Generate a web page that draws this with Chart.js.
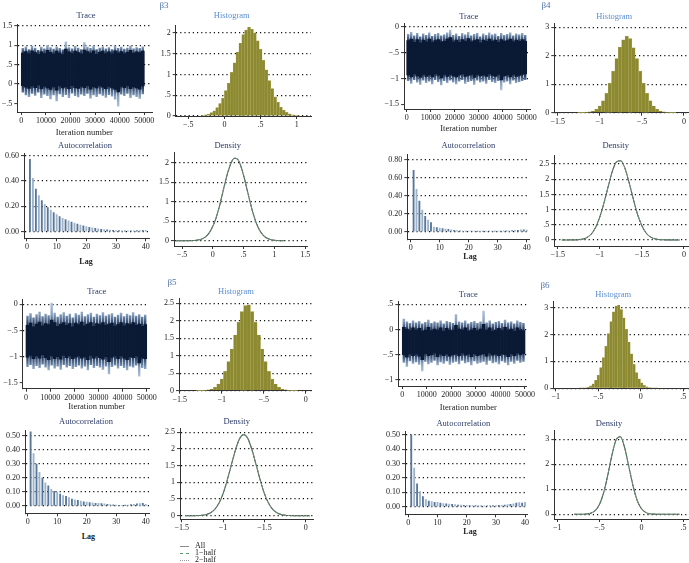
<!DOCTYPE html>
<html>
<head>
<meta charset="utf-8">
<script src="https://cdn.jsdelivr.net/npm/chart.js"></script>
<style>
  body { margin: 0; width: 689px; height: 563px; overflow: hidden; background: #fff; position: relative; }
  canvas { position: absolute; }
  .t { position: absolute; white-space: nowrap; transform: translate(-50%, -50%); line-height: 1;
       font-family: "Liberation Serif", "DejaVu Serif", serif; font-size: 8.5px; color: #2b3a67; }
  .hist { color: #5b8ed3; }
  .beta { color: #4f73a8; font-size: 9px; }
  .axt { color: #222; }
  .lag { color: #222; font-weight: bold; font-size: 8px; }
  .leg { position: absolute; font-family: "Liberation Serif", serif; font-size: 8px; color: #222; line-height: 1; }
  .leg i { display: inline-block; width: 9px; margin-right: 6px; vertical-align: middle; }
</style>
</head>
<body>
<script>
// categories / ticks
function grid(start, step, n) { return Array.from({ length: n }, (_, i) => +(start + step * i).toFixed(4)); }
const traceIter = grid(625, 1250, 40);
const lags = grid(1, 1, 40);
const traceTicks = [0, 10000, 20000, 30000, 40000, 50000];
const traceTickLabels = ["0", "10000", "20000", "30000", "40000", "50000"];
const lagTicks = [0, 10, 20, 30, 40];
const lagTickLabels = ["0", "10", "20", "30", "40"];

// beta3
const b3OuterHi = [0.93,0.97,0.90,0.99,0.94,0.88,0.96,0.92,1.00,0.95,0.91,0.97,0.93,0.89,1.10,0.95,0.92,0.98,0.94,0.90,1.08,0.96,0.93,0.99,0.90,0.94,0.97,0.92,0.95,0.90,0.98,0.93,0.96,0.91,0.94,0.99,0.92,0.95,0.93,0.97];
const b3OuterLo = [-0.22,-0.29,-0.33,-0.25,-0.30,-0.22,-0.36,-0.27,-0.31,-0.39,-0.29,-0.44,-0.26,-0.33,-0.28,-0.36,-0.24,-0.31,-0.34,-0.27,-0.31,-0.25,-0.37,-0.29,-0.33,-0.26,-0.30,-0.35,-0.28,-0.32,-0.40,-0.58,-0.27,-0.31,-0.25,-0.36,-0.29,-0.33,-0.38,-0.26];
const b3CoreHi = [0.80,0.84,0.78,0.86,0.81,0.77,0.83,0.79,0.87,0.82,0.78,0.85,0.80,0.76,0.90,0.83,0.79,0.85,0.81,0.78,0.88,0.84,0.80,0.86,0.77,0.82,0.85,0.79,0.83,0.78,0.86,0.80,0.84,0.79,0.82,0.87,0.80,0.83,0.81,0.85];
const b3CoreLo = [-0.04,-0.08,-0.11,-0.05,-0.09,-0.03,-0.12,-0.06,-0.10,-0.14,-0.07,-0.16,-0.05,-0.10,-0.07,-0.12,-0.04,-0.09,-0.11,-0.06,-0.09,-0.05,-0.13,-0.07,-0.10,-0.05,-0.08,-0.12,-0.06,-0.10,-0.14,-0.20,-0.06,-0.09,-0.05,-0.12,-0.07,-0.10,-0.13,-0.05];
const b3HistX = grid(-0.30, 0.04, 34);
const b3Hist = [0.015,0.027,0.045,0.080,0.124,0.200,0.30,0.43,0.61,0.79,1.05,1.28,1.54,1.75,1.96,2.07,2.14,2.09,2.00,1.81,1.61,1.34,1.11,0.85,0.66,0.46,0.33,0.21,0.14,0.088,0.050,0.031,0.016,0.009];
const b3Acf = [0.57,0.42,0.335,0.285,0.245,0.215,0.19,0.17,0.15,0.135,0.12,0.105,0.095,0.085,0.075,0.068,0.06,0.052,0.046,0.04,0.035,0.03,0.026,0.022,0.019,0.016,0.014,0.012,0.01,0.009,0.008,0.007,0.007,0.006,0.006,0.007,0.008,0.009,0.01,0.01];
const b3DensX = grid(-0.60, 0.05, 36);
const b3Dens = [0,0,0,0,0.001,0.003,0.006,0.015,0.032,0.066,0.125,0.22,0.37,0.57,0.84,1.16,1.49,1.79,2.01,2.12,2.10,1.94,1.68,1.36,1.03,0.73,0.48,0.30,0.177,0.096,0.050,0.024,0.010,0.0045,0.002,0.001];

// beta4
const b4OuterHi = [-0.14,-0.10,-0.17,-0.12,-0.19,-0.13,-0.16,-0.11,-0.18,-0.14,-0.12,-0.17,-0.15,-0.11,-0.06,-0.16,-0.13,-0.18,-0.12,-0.15,-0.10,-0.17,-0.14,-0.12,-0.19,-0.13,-0.16,-0.11,-0.15,-0.13,-0.18,-0.12,-0.16,-0.14,-0.11,-0.17,-0.13,-0.15,-0.12,-0.16];
const b4OuterLo = [-1.05,-1.10,-1.03,-1.08,-1.12,-1.04,-1.09,-1.06,-1.11,-1.03,-1.07,-1.13,-1.05,-1.09,-1.04,-1.08,-1.11,-1.06,-1.03,-1.10,-1.07,-1.05,-1.12,-1.04,-1.08,-1.06,-1.10,-1.03,-1.07,-1.09,-1.05,-1.23,-1.08,-1.06,-1.11,-1.04,-1.09,-1.07,-1.05,-1.03];
const b4CoreHi = [-0.27,-0.24,-0.30,-0.25,-0.31,-0.26,-0.29,-0.24,-0.30,-0.27,-0.25,-0.29,-0.28,-0.24,-0.21,-0.29,-0.26,-0.30,-0.25,-0.28,-0.23,-0.29,-0.27,-0.25,-0.31,-0.26,-0.28,-0.24,-0.28,-0.26,-0.30,-0.25,-0.28,-0.27,-0.24,-0.29,-0.26,-0.28,-0.25,-0.28];
const b4CoreLo = [-0.93,-0.97,-0.91,-0.95,-0.98,-0.92,-0.96,-0.93,-0.97,-0.91,-0.94,-0.99,-0.92,-0.96,-0.92,-0.95,-0.97,-0.93,-0.91,-0.96,-0.94,-0.92,-0.98,-0.92,-0.95,-0.93,-0.96,-0.91,-0.94,-0.96,-0.92,-1.03,-0.95,-0.93,-0.97,-0.92,-0.96,-0.94,-0.92,-0.91];
const b4HistX = grid(-1.24, 0.04, 29);
const b4Hist = [0.002,0.004,0.011,0.027,0.060,0.123,0.236,0.42,0.68,1.04,1.46,1.90,2.30,2.56,2.69,2.60,2.28,1.90,1.46,1.04,0.68,0.42,0.236,0.123,0.060,0.027,0.011,0.004,0.002];
const b4Acf = [0.68,0.47,0.34,0.24,0.17,0.13,0.10,0.05,0.045,0.04,0.035,0.03,0.025,0.02,0.015,0.012,0.01,0.008,0.007,0.006,0.005,0.005,0.004,0.004,0.004,0.005,0.005,0.006,0.006,0.007,0.008,0.009,0.01,0.011,0.012,0.014,0.016,0.02,0.022,0.018];
const b4DensX = grid(-1.45, 0.05, 29);
const b4Dens = [0,0,0.001,0.003,0.011,0.032,0.085,0.196,0.41,0.75,1.22,1.76,2.27,2.58,2.61,2.35,1.87,1.33,0.83,0.47,0.23,0.102,0.039,0.014,0.004,0.001,0,0,0];

// beta5
const b5OuterHi = [-0.22,-0.17,-0.25,-0.19,-0.14,-0.23,-0.18,-0.21,0.03,-0.16,-0.24,-0.19,-0.15,-0.22,-0.18,-0.25,-0.17,-0.20,-0.14,-0.23,-0.19,-0.16,-0.24,-0.18,-0.21,-0.15,-0.22,-0.19,-0.17,-0.24,-0.20,-0.16,-0.23,-0.18,-0.21,-0.15,-0.22,-0.19,-0.24,-0.20];
const b5OuterLo = [-1.20,-1.16,-1.24,-1.18,-1.22,-1.15,-1.21,-1.26,-1.17,-1.23,-1.19,-1.25,-1.16,-1.21,-1.18,-1.24,-1.20,-1.17,-1.23,-1.19,-1.26,-1.16,-1.22,-1.18,-1.21,-1.25,-1.19,-1.34,-1.20,-1.17,-1.23,-1.18,-1.22,-1.26,-1.19,-1.21,-1.17,-1.38,-1.22,-1.24];
const b5CoreHi = [-0.40,-0.36,-0.43,-0.38,-0.34,-0.41,-0.37,-0.39,-0.30,-0.35,-0.42,-0.38,-0.35,-0.40,-0.37,-0.43,-0.36,-0.39,-0.34,-0.41,-0.38,-0.35,-0.42,-0.37,-0.39,-0.35,-0.40,-0.38,-0.36,-0.42,-0.39,-0.35,-0.41,-0.37,-0.39,-0.35,-0.40,-0.38,-0.42,-0.39];
const b5CoreLo = [-1.01,-0.98,-1.04,-0.99,-1.03,-0.97,-1.02,-1.06,-0.99,-1.04,-1.00,-1.05,-0.98,-1.02,-0.99,-1.04,-1.01,-0.99,-1.03,-1.00,-1.06,-0.98,-1.03,-0.99,-1.02,-1.05,-1.00,-1.10,-1.01,-0.99,-1.04,-0.99,-1.03,-1.06,-1.00,-1.02,-0.99,-1.12,-1.03,-1.04];
const b5HistX = grid(-1.28, 0.04, 30);
const b5Hist = [0.001,0.004,0.010,0.022,0.049,0.10,0.19,0.33,0.55,0.83,1.19,1.59,1.96,2.26,2.43,2.45,2.26,1.96,1.59,1.19,0.83,0.55,0.33,0.19,0.10,0.049,0.022,0.010,0.004,0.001];
const b5Acf = [0.53,0.375,0.30,0.24,0.20,0.165,0.145,0.12,0.105,0.10,0.085,0.075,0.07,0.06,0.05,0.045,0.04,0.035,0.03,0.028,0.025,0.022,0.02,0.02,0.018,0.015,0.012,0.01,0.008,0.006,0.005,0.005,0.006,0.007,0.01,0.012,0.015,0.018,0.02,0.012];
const b5DensX = grid(-1.45, 0.05, 31);
const b5Dens = [0,0,0.001,0.004,0.013,0.036,0.087,0.19,0.37,0.66,1.06,1.52,1.97,2.31,2.43,2.31,1.97,1.52,1.06,0.66,0.37,0.19,0.087,0.036,0.013,0.004,0.001,0,0,0,0];

// beta6
const b6OuterHi = [0.21,0.16,0.13,0.18,0.14,0.17,0.12,0.15,0.19,0.13,0.16,0.14,0.18,0.12,0.17,0.15,0.13,0.30,0.16,0.14,0.18,0.12,0.15,0.17,0.13,0.16,0.37,0.14,0.18,0.12,0.15,0.17,0.13,0.19,0.14,0.16,0.12,0.18,0.15,0.13];
const b6OuterLo = [-0.66,-0.74,-0.63,-0.68,-0.65,-0.70,-0.83,-0.64,-0.69,-0.66,-0.62,-0.71,-0.65,-0.68,-0.63,-0.70,-0.66,-0.64,-0.69,-0.62,-0.67,-0.65,-0.71,-0.63,-0.68,-0.66,-0.64,-0.70,-0.62,-0.67,-0.65,-0.69,-0.63,-0.66,-0.71,-0.64,-0.68,-0.62,-0.66,-0.64];
const b6CoreHi = [0.04,0.01,-0.02,0.03,-0.01,0.02,-0.03,0.00,0.04,-0.02,0.01,-0.01,0.03,-0.03,0.02,0.00,-0.02,0.08,0.01,-0.01,0.03,-0.03,0.00,0.02,-0.02,0.01,0.10,-0.01,0.03,-0.03,0.00,0.02,-0.02,0.04,-0.01,0.01,-0.03,0.03,0.00,-0.02];
const b6CoreLo = [-0.50,-0.55,-0.48,-0.52,-0.49,-0.53,-0.60,-0.48,-0.52,-0.50,-0.47,-0.54,-0.49,-0.52,-0.48,-0.53,-0.50,-0.48,-0.52,-0.47,-0.51,-0.49,-0.54,-0.48,-0.52,-0.50,-0.48,-0.53,-0.47,-0.51,-0.49,-0.52,-0.48,-0.50,-0.54,-0.48,-0.52,-0.47,-0.50,-0.48];
const b6HistX = grid(-0.71, 0.03, 31);
const b6Hist = [0.004,0.009,0.021,0.044,0.088,0.167,0.30,0.49,0.77,1.14,1.57,2.03,2.48,2.84,3.06,3.09,2.93,2.62,2.19,1.72,1.28,0.89,0.58,0.35,0.20,0.11,0.057,0.027,0.012,0.005,0.002];
const b6Acf = [0.50,0.27,0.16,0.105,0.07,0.05,0.04,0.035,0.03,0.03,0.025,0.022,0.02,0.018,0.016,0.014,0.012,0.011,0.01,0.009,0.008,0.008,0.007,0.007,0.006,0.006,0.006,0.007,0.007,0.008,0.009,0.01,0.012,0.014,0.016,0.02,0.025,0.028,0.025,0.03];
const b6DensX = grid(-0.80, 0.05, 26);
const b6Dens = [0,0,0.002,0.011,0.045,0.144,0.39,0.86,1.57,2.38,2.99,3.10,2.66,1.90,1.13,0.54,0.22,0.074,0.020,0.005,0.001,0,0,0,0,0];

const FONT = '"Liberation Serif", "DejaVu Serif", serif';

function makeChart(g, type, datasets, xt, xl, yt, yl) {
  const yw = 26, xh = 14;
  const left = Math.round(g.L - yw - 2), top = Math.round(g.T - 8);
  const width = Math.round(g.R + 18 - left), height = Math.round(g.B + xh + 2 - top);
  const cv = document.createElement("canvas");
  cv.width = width; cv.height = height;
  cv.style.left = left + "px"; cv.style.top = top + "px";
  document.body.appendChild(cv);
  const tickFont = { family: FONT, size: 8 };
  const noGrid = g.noGrid || [];
  return new Chart(cv, {
    type: type,
    data: { datasets: datasets },
    options: {
      responsive: false, animation: false, events: [],
      layout: { padding: { left: g.L - yw - left, top: g.T - top, right: left + width - g.R, bottom: top + height - g.B - xh } },
      plugins: { legend: { display: false }, tooltip: { enabled: false } },
      scales: {
        x: {
          type: "linear", min: g.x[0], max: g.x[1], offset: false, bounds: "data",
          afterBuildTicks: s => { s.ticks = xt.map(v => ({ value: v })); },
          afterFit: s => { s.height = xh; },
          ticks: { callback: (v, i) => xl[i], font: tickFont, color: "#222", padding: 1, maxRotation: 0, autoSkip: false },
          grid: { offset: false, drawOnChartArea: false, tickLength: 3, color: "#333" },
          border: { color: "#333", width: 1 }
        },
        y: {
          type: "linear", min: g.y[0], max: g.y[1], bounds: "data",
          afterBuildTicks: s => { s.ticks = yt.map(v => ({ value: v })); },
          afterFit: s => { s.width = yw; },
          ticks: { callback: (v, i) => yl[i], font: tickFont, color: "#222", padding: 2, autoSkip: false },
          grid: { color: c => noGrid.includes(c.tick && c.tick.value) ? "rgba(0,0,0,0)" : "#111",
                  lineWidth: 1.2, tickLength: 3, tickColor: "#333", tickWidth: 1 },
          border: { color: "#333", width: 1, dash: [1.2, 3] }
        }
      }
    }
  });
}

function pts(xs, ys) { return xs.map((x, i) => ({ x: x, y: ys[i] })); }
function band(lo, hi) { return traceIter.map((x, i) => ({ x: x, y: [lo[i], hi[i]] })); }
const mean = a => a.reduce((s, v) => s + v, 0) / a.length;

// fading colour for the outer spikes: dark near the band, light at the extremes
function fade(oLo, oHi, cLo, cHi) {
  return c => {
    const ch = c.chart;
    if (!ch.chartArea) return "#6786ac";
    const y = ch.scales.y;
    const top = y.getPixelForValue(Math.max(...oHi)), bot = y.getPixelForValue(Math.min(...oLo));
    const span = bot - top;
    const at = v => Math.min(1, Math.max(0, (y.getPixelForValue(v) - top) / span));
    const gr = ch.ctx.createLinearGradient(0, top, 0, bot);
    gr.addColorStop(0, "#b2c3d7");
    gr.addColorStop(at(mean(oHi)), "#86a0c0");
    gr.addColorStop(at(mean(cHi)), "#233a5e");
    gr.addColorStop(at(mean(cLo)), "#233a5e");
    gr.addColorStop(at(mean(oLo)), "#86a0c0");
    gr.addColorStop(1, "#b2c3d7");
    return gr;
  };
}

function trace(g, oLo, oHi, cLo, cHi, yt, yl) {
  makeChart(g, "bar", [
    { data: band(cLo, cHi), backgroundColor: "#0b1a34", barPercentage: 1, categoryPercentage: 1, grouped: false, order: 0 },
    { data: band(oLo, oHi), backgroundColor: fade(oLo, oHi, cLo, cHi), barPercentage: 0.8, categoryPercentage: 1, grouped: false, order: 1 }
  ], traceTicks, traceTickLabels, yt, yl);
}
function hist(g, xs, ys, xt, xl, yt, yl) {
  makeChart(g, "bar", [
    { data: pts(xs, ys), backgroundColor: "#8c8930", borderColor: "#b4b06a", borderWidth: 0.4,
      barPercentage: 1, categoryPercentage: 1 }
  ], xt, xl, yt, yl);
}
function acf(g, ys, yt, yl) {
  makeChart(g, "bar", [
    { data: pts(lags, ys), backgroundColor: lags.map((l, i) => i % 2 ? "#9db3ca" : "#58769a"), barThickness: 1.2 }
  ], lagTicks, lagTickLabels, yt, yl);
}
function dens(g, xs, ys, xt, xl, yt, yl) {
  const base = { data: pts(xs, ys), pointRadius: 0, cubicInterpolationMode: "monotone", fill: false };
  makeChart(g, "line", [
    Object.assign({}, base, { label: "2-half", borderColor: "#999", borderWidth: 1, borderDash: [1, 2] }),
    Object.assign({}, base, { label: "1-half", borderColor: "#3f7f52", borderWidth: 1, borderDash: [3, 2] }),
    Object.assign({}, base, { label: "All", borderColor: "#56605a", borderWidth: 1.1 })
  ], xt, xl, yt, yl);
}

function txt(s, x, y, cls) {
  const d = document.createElement("div");
  d.className = "t " + (cls || "");
  d.textContent = s;
  d.style.left = x + "px"; d.style.top = y + "px";
  document.body.appendChild(d);
}

// ---- beta3 ----
trace({ L: 17.3, R: 152, T: 24, B: 112, x: [-1626, 53130], y: [-0.72, 1.55], noGrid: [-0.5] },
  b3OuterLo, b3OuterHi, b3CoreLo, b3CoreHi, [1.5, 1, 0.5, 0, -0.5], ["1.5", "1", ".5", "0", "−.5"]);
hist({ L: 175.7, R: 311, T: 25, B: 116, x: [-0.673, 1.196], y: [0, 2.19] }, b3HistX, b3Hist,
  [-0.5, 0, 0.5, 1], ["−.5", "0", ".5", "1"], [0, 0.5, 1, 1.5, 2], ["0", ".5", "1", "1.5", "2"]);
acf({ L: 24, R: 149, T: 153, B: 238.3, x: [-1, 41.1], y: [-0.052, 0.62] }, b3Acf,
  [0, 0.2, 0.4, 0.6], ["0.00", "0.20", "0.40", "0.60"]);
dens({ L: 174, R: 307, T: 152, B: 246, x: [-0.63, 1.53], y: [-0.136, 2.28] }, b3DensX, b3Dens,
  [-0.5, 0, 0.5, 1, 1.5], ["−.5", "0", ".5", "1", "1.5"], [0, 0.5, 1, 1.5, 2], ["0", ".5", "1", "1.5", "2"]);

// ---- beta4 ----
trace({ L: 404, R: 530, T: 23.3, B: 109, x: [-1125, 51375], y: [-1.59, 0.066], noGrid: [-1.5] },
  b4OuterLo, b4OuterHi, b4CoreLo, b4CoreHi, [0, -0.5, -1, -1.5], ["0", "−.5", "−1", "−1.5"]);
hist({ L: 554.3, R: 692, T: 23.3, B: 112.7, x: [-1.54, 0.095], y: [0, 3.14] }, b4HistX, b4Hist,
  [-1.5, -1, -0.5, 0], ["−1.5", "−1", "−.5", "0"], [0, 1, 2, 3], ["0", "1", "2", "3"]);
acf({ L: 407.3, R: 529, T: 154, B: 239.3, x: [-1.17, 40.8], y: [-0.084, 0.86] }, b4Acf,
  [0, 0.2, 0.4, 0.6, 0.8], ["0.00", "0.20", "0.40", "0.60", "0.80"]);
dens({ L: 554.3, R: 692, T: 155, B: 246, x: [-1.54, 0.095], y: [-0.2, 2.8] }, b4DensX, b4Dens,
  [-1.5, -1, -0.5, 0], ["−1.5", "−1", "−1.5", "0"], [0, 0.5, 1, 1.5, 2, 2.5], ["0", ".5", "1", "1.5", "2", "2.5"]);

// ---- beta5 ----
trace({ L: 22.7, R: 149, T: 299.3, B: 388.7, x: [-1367, 50950], y: [-1.615, 0.096], noGrid: [-1.5] },
  b5OuterLo, b5OuterHi, b5CoreLo, b5CoreHi, [0, -0.5, -1, -1.5], ["0", "−.5", "−1", "−1.5"]);
hist({ L: 179, R: 311.7, T: 298.3, B: 390.7, x: [-1.51, 0.07], y: [0, 2.64] }, b5HistX, b5Hist,
  [-1.5, -1, -0.5, 0], ["−1.5", "−1", "−.5", "0"], [0, 0.5, 1, 1.5, 2, 2.5], ["0", ".5", "1", "1.5", "2", "2.5"]);
acf({ L: 25, R: 149, T: 430, B: 513.3, x: [-0.9, 41.1], y: [-0.052, 0.543] }, b5Acf,
  [0, 0.1, 0.2, 0.3, 0.4, 0.5], ["0.00", "0.10", "0.20", "0.30", "0.40", "0.50"]);
dens({ L: 180, R: 313.3, T: 428.3, B: 519.3, x: [-1.52, 0.09], y: [-0.11, 2.62] }, b5DensX, b5Dens,
  [-1.5, -1, -0.5, 0], ["−1.5", "−1", "−1.5", "0"], [0, 0.5, 1, 1.5, 2, 2.5], ["0", ".5", "1", "1.5", "2", "2.5"]);

// ---- beta6 ----
trace({ L: 398.3, R: 526.7, T: 301.7, B: 386, x: [-1630, 50700], y: [-1.12, 0.55] },
  b6OuterLo, b6OuterHi, b6CoreLo, b6CoreHi, [0.5, 0, -0.5, -1], [".5", "0", "−.5", "−1"]);
hist({ L: 553.3, R: 692, T: 301.7, B: 388.3, x: [-1.03, 0.602], y: [0, 3.22] }, b6HistX, b6Hist,
  [-1, -0.5, 0, 0.5], ["−1", "−.5", "0", ".5"], [0, 1, 2, 3], ["0", "1", "2", "3"]);
acf({ L: 405, R: 527.7, T: 431.7, B: 514.3, x: [-1.14, 40.9], y: [-0.053, 0.523] }, b6Acf,
  [0, 0.1, 0.2, 0.3, 0.4, 0.5], ["0.00", "0.10", "0.20", "0.30", "0.40", "0.50"]);
dens({ L: 554.3, R: 692, T: 430, B: 519, x: [-1.036, 0.6], y: [-0.19, 3.37] }, b6DensX, b6Dens,
  [-1, -0.5, 0, 0.5], ["−1", "−.5", "0", ".5"], [0, 1, 2, 3], ["0", "1", "2", "3"]);

// ---- titles ----
txt("β3", 164, 5, "beta"); txt("β4", 546, 5, "beta"); txt("β5", 172, 282, "beta"); txt("β6", 545, 285, "beta");
txt("Trace", 86, 15); txt("Histogram", 231.7, 15, "hist");
txt("Iteration number", 84.3, 131.7, "axt");
txt("Autocorrelation", 85, 145); txt("Density", 227.7, 145); txt("Lag", 86, 261.7, "lag");
txt("Trace", 468.7, 15.7); txt("Histogram", 614.3, 15.7, "hist");
txt("Iteration number", 468.7, 128.3, "axt");
txt("Autocorrelation", 468.3, 145); txt("Density", 615.7, 145); txt("Lag", 470, 257.3, "lag");
txt("Trace", 96.7, 291); txt("Histogram", 236, 291, "hist");
txt("Iteration number", 96.7, 406, "axt");
txt("Autocorrelation", 86, 421); txt("Density", 236.7, 421); txt("Lag", 88.3, 536.7, "lag");
txt("Trace", 468.3, 294.3); txt("Histogram", 613.3, 294.3, "hist");
txt("Iteration number", 468.3, 406.7, "axt");
txt("Autocorrelation", 463.3, 422.7); txt("Density", 609, 422.7); txt("Lag", 470, 531.7, "lag");

// ---- legend (beta5 density) ----
[["All", "1px solid #8a8a8a"], ["1−half", "1px dashed #5a9a68"], ["2−half", "1px dotted #999"]].forEach((it, i) => {
  const d = document.createElement("div");
  d.className = "leg";
  d.style.left = "180px"; d.style.top = (542 + i * 7) + "px";
  const s = document.createElement("i"); s.style.borderTop = it[1];
  d.appendChild(s); d.appendChild(document.createTextNode(it[0]));
  document.body.appendChild(d);
});
</script>
</body>
</html>
